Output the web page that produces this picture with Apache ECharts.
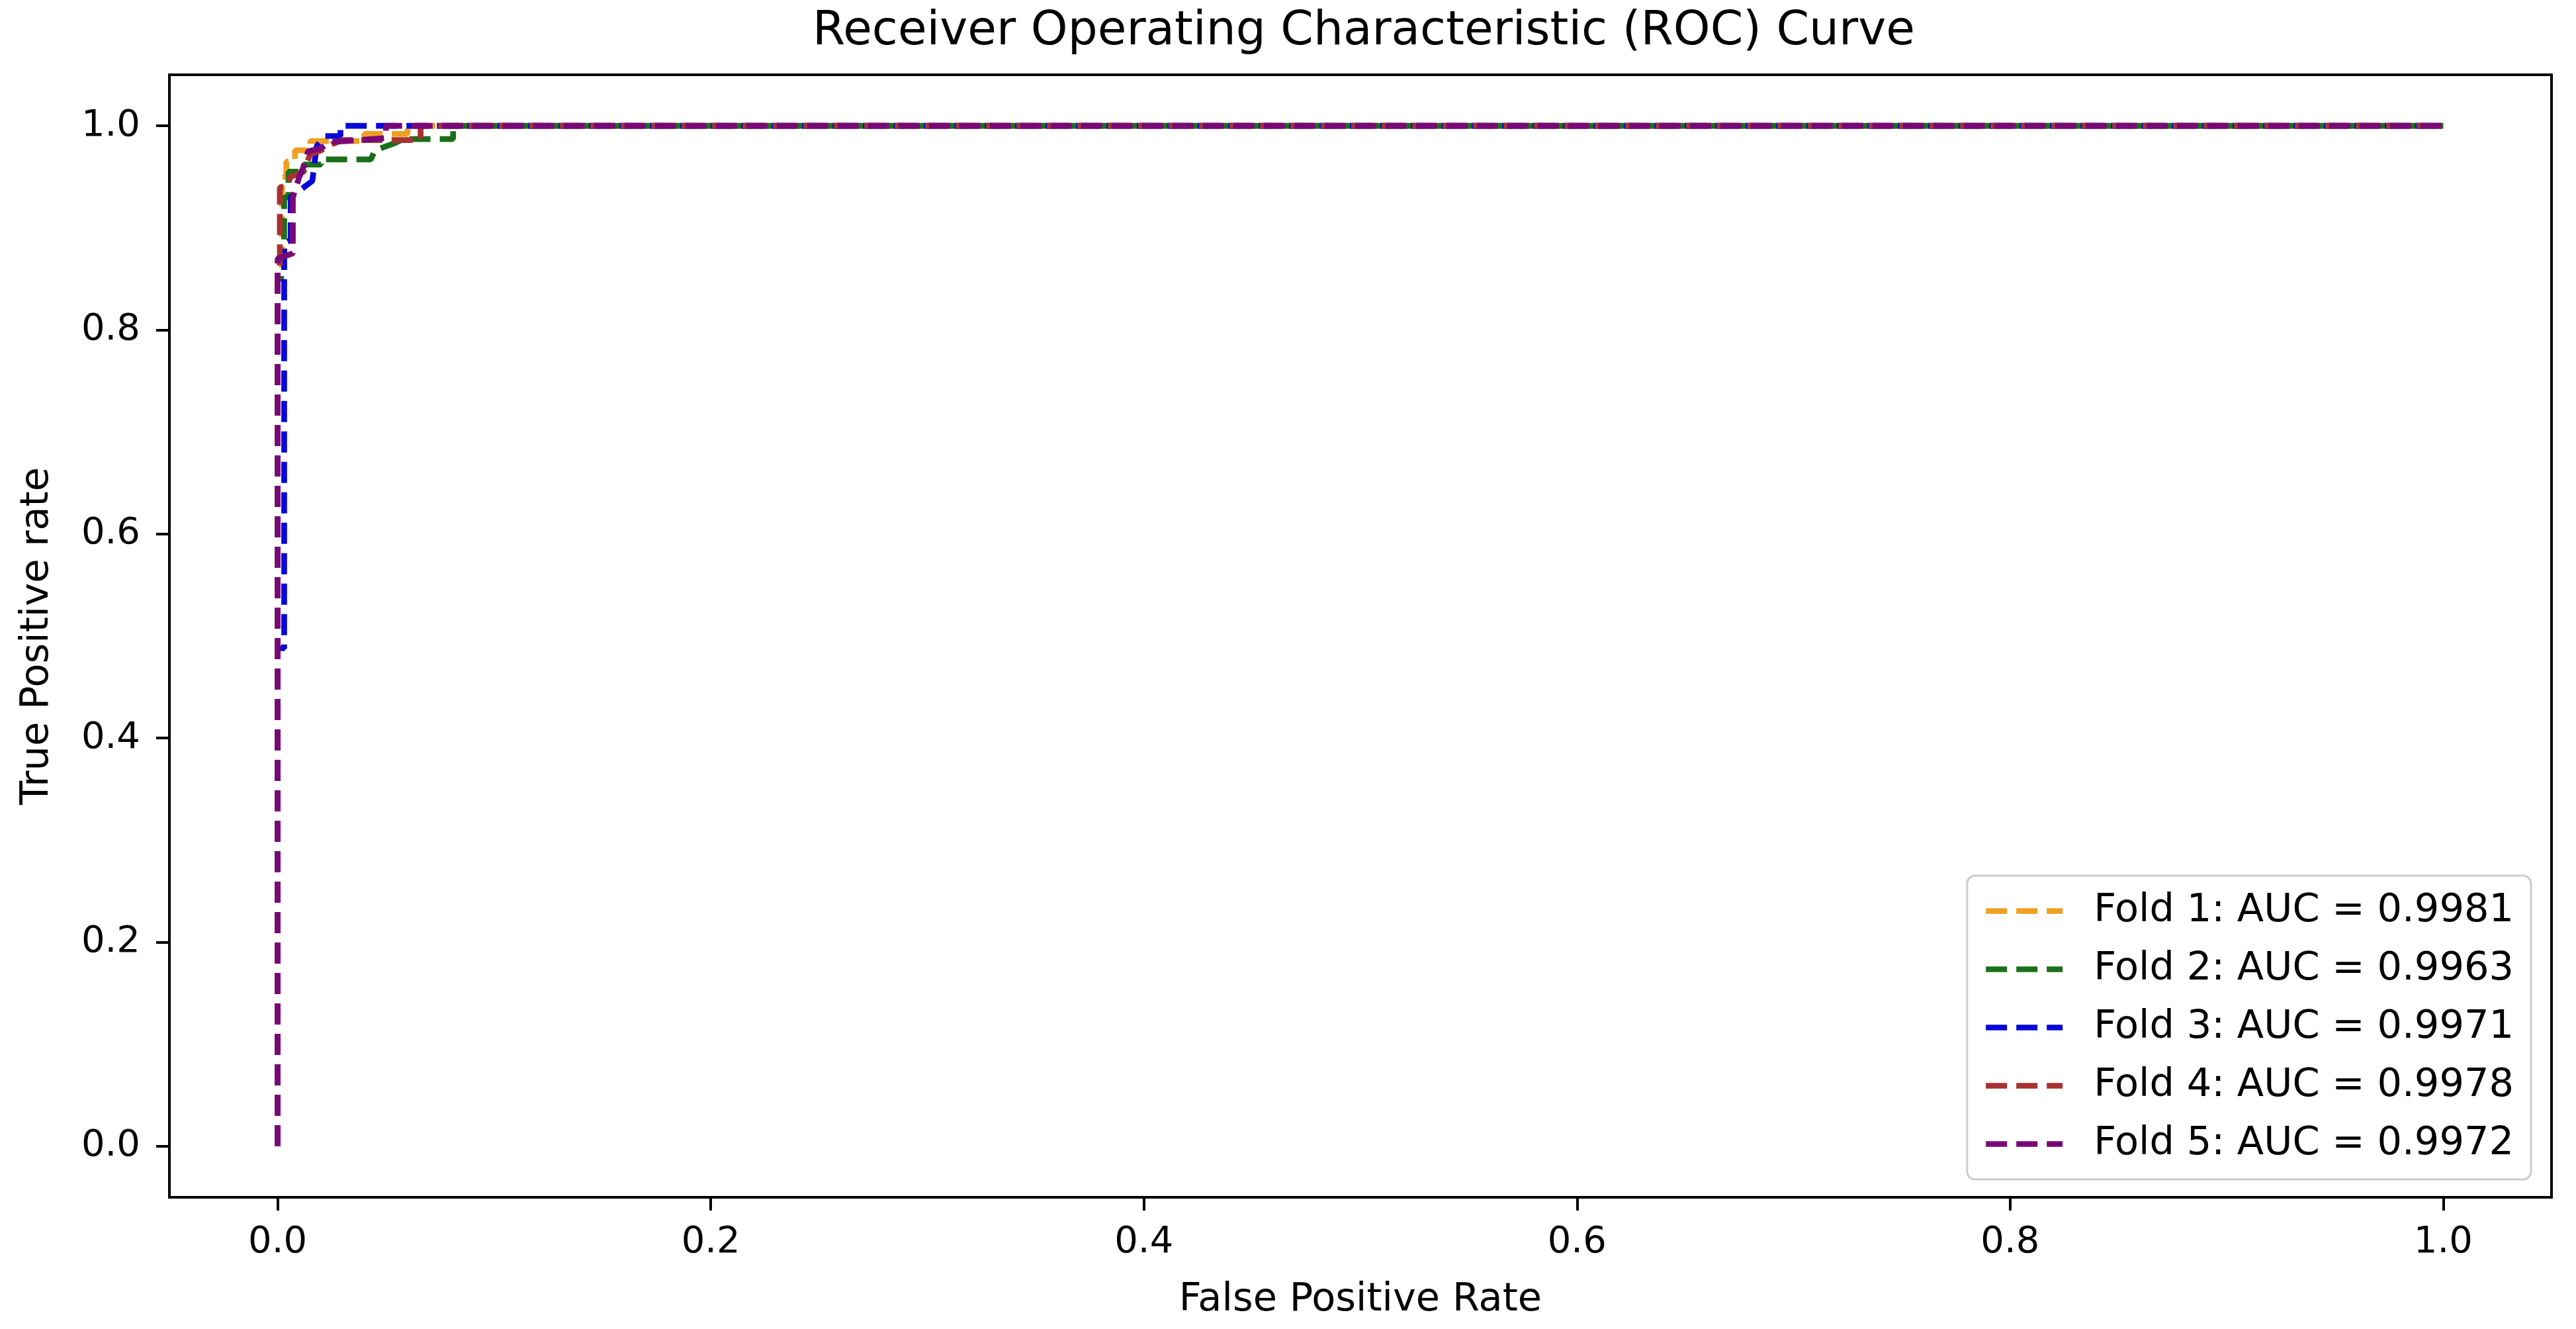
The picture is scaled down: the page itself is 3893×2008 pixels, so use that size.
<!DOCTYPE html>
<html>
<head>
<meta charset="utf-8">
<script src="https://cdn.jsdelivr.net/npm/echarts@6/dist/echarts.min.js"></script>
<style>
html,body{margin:0;padding:0;background:#fff;}
#chart{width:3893px;height:2008px;}
</style>
</head>
<body>
<div id="chart"></div>
<script>
// ---- data ----
const foldNames = ['Fold 1: AUC = 0.9981','Fold 2: AUC = 0.9963','Fold 3: AUC = 0.9971','Fold 4: AUC = 0.9978','Fold 5: AUC = 0.9972'];
const foldColors = ['#f0a020','#1a701a','#0808d8','#a83232','#780878'];
const xTicks = [0, 0.2, 0.4, 0.6, 0.8, 1.0];
const yTicks = [0, 0.2, 0.4, 0.6, 0.8, 1.0];

const fold1 = [[0,0],[0,0.86],[0.002,0.86],[0.002,0.95],[0.004,0.95],[0.004,0.965],[0.008,0.965],[0.008,0.976],[0.015,0.976],[0.015,0.985],[0.04,0.985],[0.04,0.992],[0.06,0.992],[0.06,1.0],[1,1]];
const fold2 = [[0,0],[0,0.85],[0.003,0.85],[0.003,0.93],[0.005,0.93],[0.005,0.955],[0.012,0.955],[0.012,0.962],[0.02,0.962],[0.02,0.967],[0.043,0.967],[0.045,0.976],[0.054,0.983],[0.058,0.987],[0.081,0.987],[0.081,1.0],[1,1]];
const fold3 = [[0,0],[0,0.488],[0.003,0.488],[0.003,0.885],[0.006,0.888],[0.006,0.93],[0.016,0.946],[0.018,0.98],[0.022,0.99],[0.029,0.99],[0.029,1.0],[1,1]];
const fold4 = [[0,0],[0,0.86],[0.001,0.86],[0.001,0.94],[0.004,0.94],[0.006,0.95],[0.012,0.955],[0.015,0.972],[0.02,0.976],[0.025,0.982],[0.03,0.986],[0.066,0.986],[0.066,1.0],[1,1]];
const fold5 = [[0,0],[0,0.87],[0.007,0.875],[0.007,0.93],[0.01,0.95],[0.012,0.96],[0.014,0.975],[0.02,0.978],[0.024,0.984],[0.05,0.988],[0.05,1.0],[1,1]];
const foldData = [fold1, fold2, fold3, fold4, fold5];

const FONT = 'DejaVu Sans';
const chart = echarts.init(document.getElementById('chart'), null, {renderer:'canvas'});

const series = foldNames.map((name, i) => ({
  name: name,
  type: 'line',
  data: foldData[i],
  symbol: 'none',
  showSymbol: false,
  clip: true,
  lineStyle: { color: foldColors[i], width: 8.7, type: [32, 14] },
  itemStyle: { color: foldColors[i] },
  emphasis: { disabled: true }
}));

chart.setOption({
  animation: false,
  backgroundColor: '#ffffff',
  title: {
    text: 'Receiver Operating Characteristic (ROC) Curve',
    left: 2056,
    textAlign: 'center',
    top: 8,
    textStyle: { fontFamily: FONT, fontSize: 71, fontWeight: 'normal', color: '#000' }
  },
  grid: {
    left: 256, right: 37, top: 113, bottom: 199,
    containLabel: false,
    outerBoundsMode: 'none',
    show: true,
    borderColor: '#000',
    borderWidth: 4,
    backgroundColor: 'transparent'
  },
  legend: {
    orient: 'vertical',
    right: 68,
    bottom: 226,
    itemWidth: 116,
    itemHeight: 2,
    itemGap: 29,
    padding: [24, 26, 24, 24],
    backgroundColor: 'rgba(255,255,255,0.8)',
    borderColor: '#cccccc',
    borderWidth: 3,
    borderRadius: 12,
    lineStyle: { width: 8.7, type: [32, 14] },
    itemStyle: { color: 'rgba(0,0,0,0)', borderWidth: 0, opacity: 0 },
    textStyle: { fontFamily: FONT, fontSize: 59, color: '#000', lineHeight: 57, padding: [0, 0, 0, 42] },
    data: foldNames
  },
  xAxis: {
    type: 'value',
    min: -0.05,
    max: 1.05,
    name: 'False Positive Rate',
    nameLocation: 'middle',
    nameGap: 126,
    nameTextStyle: { fontFamily: FONT, fontSize: 59, color: '#000' },
    axisLine: { show: false, onZero: false },
    splitLine: { show: false },
    axisTick: { show: true, inside: false, length: 20, customValues: xTicks, lineStyle: { color: '#000', width: 4 } },
    axisLabel: { show: true, customValues: xTicks, margin: 40, fontFamily: FONT, fontSize: 56, color: '#000',
      formatter: v => Number(v).toFixed(1) }
  },
  yAxis: {
    type: 'value',
    min: -0.05,
    max: 1.05,
    name: 'True Positive rate',
    nameLocation: 'middle',
    nameGap: 170,
    nameRotate: 90,
    nameTextStyle: { fontFamily: FONT, fontSize: 59, color: '#000' },
    axisLine: { show: false, onZero: false },
    splitLine: { show: false },
    axisTick: { show: true, inside: false, length: 20, customValues: yTicks, lineStyle: { color: '#000', width: 4 } },
    axisLabel: { show: true, customValues: yTicks, margin: 44, fontFamily: FONT, fontSize: 56, color: '#000',
      formatter: v => Number(v).toFixed(1) }
  },
  series: series
});
</script>
</body>
</html>
